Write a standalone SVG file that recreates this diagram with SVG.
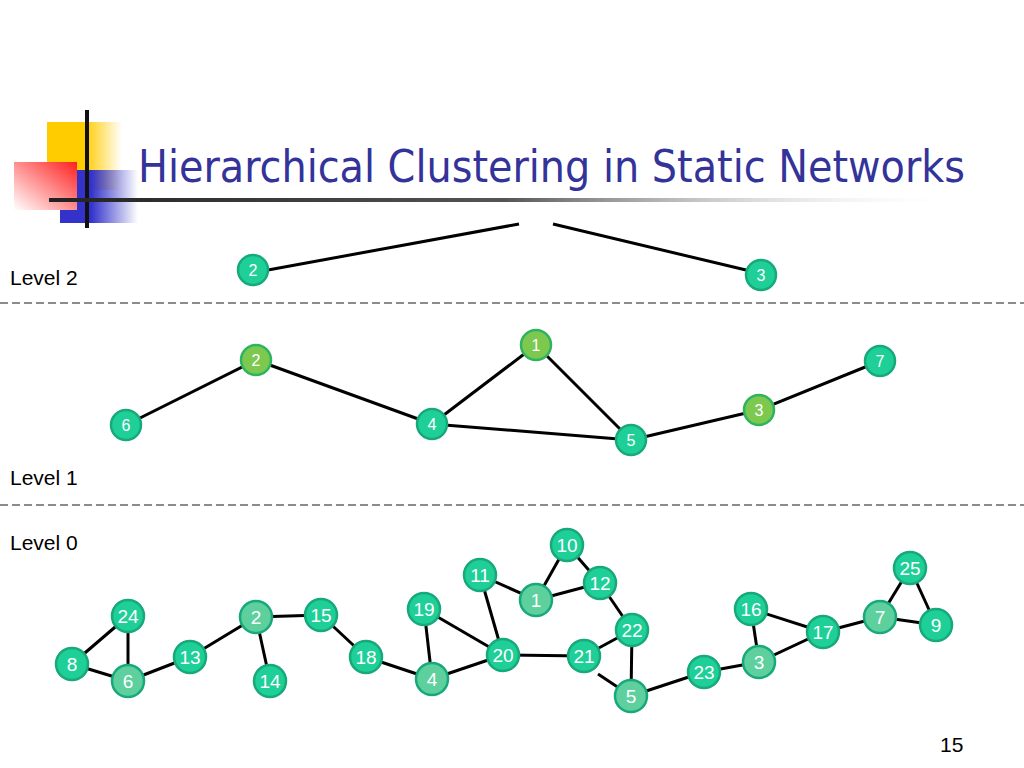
<svg xmlns="http://www.w3.org/2000/svg" width="1024" height="768" viewBox="0 0 1024 768">
<defs>
<linearGradient id="gy" x1="0" y1="0" x2="1" y2="0"><stop offset="0" stop-color="#ffcc00"/><stop offset="0.5" stop-color="#ffcc00"/><stop offset="1" stop-color="#ffcc00" stop-opacity="0"/></linearGradient>
<linearGradient id="gr" x1="1" y1="0" x2="0" y2="1"><stop offset="0" stop-color="#ff2020"/><stop offset="1" stop-color="#ffffff"/></linearGradient>
<linearGradient id="gb" x1="0" y1="0" x2="1" y2="0"><stop offset="0" stop-color="#3333cc"/><stop offset="0.4" stop-color="#3333cc"/><stop offset="1" stop-color="#3333cc" stop-opacity="0"/></linearGradient>
<linearGradient id="gl" x1="0" y1="0" x2="1" y2="0"><stop offset="0" stop-color="#222"/><stop offset="0.5" stop-color="#555"/><stop offset="1" stop-color="#fff" stop-opacity="0"/></linearGradient>
<style>
.e line, line.e{stroke:#000;stroke-width:3}
.dash{stroke:#666;stroke-width:1.5;stroke-dasharray:8 4}
.n circle{fill:#1fcf98;stroke:#18a97b;stroke-width:2.5}
.n.lt circle{fill:#5dd09d}
.n.lm circle{fill:#7dc84f;stroke:#2fb361}
.n text{fill:#fff;font-family:"Liberation Sans",Arial,sans-serif;text-anchor:middle}
.s text{font-size:16px}
.b text{font-size:19px}
.lab{font-family:"Liberation Sans",Arial,sans-serif;font-size:21px;fill:#000}
</style>
</defs>
<rect width="1024" height="768" fill="#fff"/>
<g id="logo">
<rect x="47" y="122" width="75" height="68" fill="url(#gy)"/>
<rect x="60" y="170" width="78" height="53" fill="url(#gb)"/>
<rect x="14" y="162" width="63" height="48" fill="url(#gr)"/>
<line x1="87" y1="110" x2="87" y2="228" stroke="#111" stroke-width="4"/>
<rect x="49" y="198" width="915" height="4" fill="url(#gl)"/>
</g>
<text x="138" y="182" font-family="'DejaVu Sans Condensed','DejaVu Sans',sans-serif" font-size="45" fill="#333399" textLength="827" lengthAdjust="spacingAndGlyphs">Hierarchical Clustering in Static Networks</text>
<line class="dash" x1="0" y1="303" x2="1024" y2="303"/>
<line class="dash" x1="0" y1="505" x2="1024" y2="505"/>
<text class="lab" x="10" y="285">Level 2</text>
<text class="lab" x="10" y="485">Level 1</text>
<text class="lab" x="10" y="550">Level 0</text>
<text class="lab" x="940" y="752" font-size="18">15</text>
<g id="connectors" class="e">
<line x1="268" y1="270" x2="519" y2="224"/>
<line x1="553" y1="224" x2="746" y2="270"/>
<line x1="126" y1="425" x2="256" y2="360"/>
<line x1="256" y1="360" x2="432" y2="424"/>
<line x1="432" y1="424" x2="536" y2="345"/>
<line x1="536" y1="345" x2="631" y2="440"/>
<line x1="432" y1="424" x2="631" y2="440"/>
<line x1="631" y1="440" x2="759" y2="410"/>
<line x1="759" y1="410" x2="880" y2="361"/>
<line x1="72" y1="664" x2="128" y2="616"/>
<line x1="72" y1="664" x2="128" y2="681"/>
<line x1="128" y1="616" x2="128" y2="681"/>
<line x1="128" y1="681" x2="190" y2="657"/>
<line x1="190" y1="657" x2="256" y2="617"/>
<line x1="256" y1="617" x2="321" y2="615"/>
<line x1="256" y1="617" x2="270" y2="681"/>
<line x1="321" y1="615" x2="366" y2="657"/>
<line x1="366" y1="657" x2="432" y2="679"/>
<line x1="432" y1="679" x2="424" y2="609"/>
<line x1="424" y1="609" x2="503" y2="655"/>
<line x1="432" y1="679" x2="503" y2="655"/>
<line x1="480" y1="575" x2="503" y2="655"/>
<line x1="480" y1="575" x2="536" y2="600"/>
<line x1="536" y1="600" x2="567" y2="545"/>
<line x1="536" y1="600" x2="600" y2="583"/>
<line x1="567" y1="545" x2="600" y2="583"/>
<line x1="600" y1="583" x2="632" y2="630"/>
<line x1="503" y1="655" x2="584" y2="656"/>
<line x1="584" y1="656" x2="632" y2="630"/>
<line x1="598" y1="674" x2="631" y2="696"/>
<line x1="632" y1="630" x2="631" y2="696"/>
<line x1="631" y1="696" x2="704" y2="672"/>
<line x1="704" y1="672" x2="759" y2="662"/>
<line x1="759" y1="662" x2="751" y2="609"/>
<line x1="751" y1="609" x2="823" y2="632"/>
<line x1="759" y1="662" x2="823" y2="632"/>
<line x1="823" y1="632" x2="880" y2="617"/>
<line x1="880" y1="617" x2="910" y2="568"/>
<line x1="910" y1="568" x2="936" y2="625"/>
<line x1="880" y1="617" x2="936" y2="625"/>
</g>
<g id="l2n2" class="n s"><circle cx="253" cy="270" r="15"/><text x="253" y="276">2</text></g>
<g id="l2n3" class="n s"><circle cx="761" cy="275" r="15"/><text x="761" y="281">3</text></g>
<g id="l1n2" class="n s lm"><circle cx="256" cy="360" r="15"/><text x="256" y="366">2</text></g>
<g id="l1n1" class="n s lm"><circle cx="536" cy="345" r="15"/><text x="536" y="351">1</text></g>
<g id="l1n7" class="n s"><circle cx="880" cy="361" r="15"/><text x="880" y="367">7</text></g>
<g id="l1n6" class="n s"><circle cx="126" cy="425" r="15"/><text x="126" y="431">6</text></g>
<g id="l1n4" class="n s"><circle cx="432" cy="424" r="15"/><text x="432" y="430">4</text></g>
<g id="l1n5" class="n s"><circle cx="631" cy="440" r="15"/><text x="631" y="446">5</text></g>
<g id="l1n3" class="n s lm"><circle cx="759" cy="410" r="15"/><text x="759" y="416">3</text></g>
<g id="l0n10" class="n b"><circle cx="567" cy="545" r="16"/><text x="567" y="552">10</text></g>
<g id="l0n11" class="n b"><circle cx="480" cy="575" r="16"/><text x="480" y="582">11</text></g>
<g id="l0n12" class="n b"><circle cx="600" cy="583" r="16"/><text x="600" y="590">12</text></g>
<g id="l0n1" class="n b lt"><circle cx="536" cy="600" r="16"/><text x="536" y="607">1</text></g>
<g id="l0n19" class="n b"><circle cx="424" cy="609" r="16"/><text x="424" y="616">19</text></g>
<g id="l0n22" class="n b"><circle cx="632" cy="630" r="16"/><text x="632" y="637">22</text></g>
<g id="l0n24" class="n b"><circle cx="128" cy="616" r="16"/><text x="128" y="623">24</text></g>
<g id="l0n2" class="n b lt"><circle cx="256" cy="617" r="16"/><text x="256" y="624">2</text></g>
<g id="l0n15" class="n b"><circle cx="321" cy="615" r="16"/><text x="321" y="622">15</text></g>
<g id="l0n18" class="n b"><circle cx="366" cy="657" r="16"/><text x="366" y="664">18</text></g>
<g id="l0n20" class="n b"><circle cx="503" cy="655" r="16"/><text x="503" y="662">20</text></g>
<g id="l0n21" class="n b"><circle cx="584" cy="656" r="16"/><text x="584" y="663">21</text></g>
<g id="l0n8" class="n b"><circle cx="72" cy="664" r="16"/><text x="72" y="671">8</text></g>
<g id="l0n6" class="n b lt"><circle cx="128" cy="681" r="16"/><text x="128" y="688">6</text></g>
<g id="l0n13" class="n b"><circle cx="190" cy="657" r="16"/><text x="190" y="664">13</text></g>
<g id="l0n14" class="n b"><circle cx="270" cy="681" r="16"/><text x="270" y="688">14</text></g>
<g id="l0n4" class="n b lt"><circle cx="432" cy="679" r="16"/><text x="432" y="686">4</text></g>
<g id="l0n5" class="n b lt"><circle cx="631" cy="696" r="16"/><text x="631" y="703">5</text></g>
<g id="l0n23" class="n b"><circle cx="704" cy="672" r="16"/><text x="704" y="679">23</text></g>
<g id="l0n3" class="n b lt"><circle cx="759" cy="662" r="16"/><text x="759" y="669">3</text></g>
<g id="l0n16" class="n b"><circle cx="751" cy="609" r="16"/><text x="751" y="616">16</text></g>
<g id="l0n17" class="n b"><circle cx="823" cy="632" r="16"/><text x="823" y="639">17</text></g>
<g id="l0n7" class="n b lt"><circle cx="880" cy="617" r="16"/><text x="880" y="624">7</text></g>
<g id="l0n25" class="n b"><circle cx="910" cy="568" r="16"/><text x="910" y="575">25</text></g>
<g id="l0n9" class="n b"><circle cx="936" cy="625" r="16"/><text x="936" y="632">9</text></g>
</svg>
